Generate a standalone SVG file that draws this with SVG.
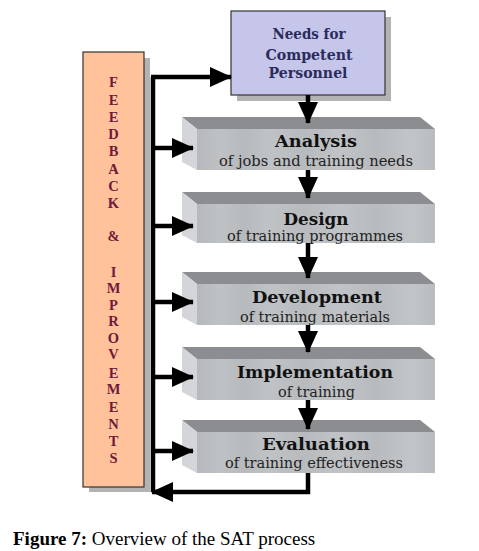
<svg xmlns="http://www.w3.org/2000/svg" width="479" height="551" viewBox="0 0 479 551">
<style>
.fb{font-family:"Liberation Serif","Times New Roman",serif;font-weight:bold;font-size:14.5px;fill:#6e1a3c;text-anchor:middle}
.nd{font-family:"DejaVu Serif","Liberation Serif",serif;font-weight:bold;font-size:14px;fill:#2b2b5c;text-anchor:middle}
.tt{font-family:"DejaVu Serif","Liberation Serif",serif;font-weight:bold;font-size:17px;fill:#111;text-anchor:middle}
.st{font-family:"DejaVu Serif","Liberation Serif",serif;font-size:14px;fill:#222;text-anchor:middle}
.topf{fill:#8b8d91}
.side{fill:#d3d5d8}
.front{fill:url(#fg)}
.shadow{fill:#b3b3b3}
.conn{stroke:#000;stroke-width:4.5;fill:none}
.cap{font-family:"Liberation Serif","Times New Roman",serif;font-size:19px;fill:#000}
</style>
<defs>
<linearGradient id="fg" x1="0" y1="0" x2="1" y2="0">
<stop offset="0" stop-color="#b6b9bc"/>
<stop offset="0.1" stop-color="#bfc2c5"/>
<stop offset="0.2" stop-color="#b7babd"/>
<stop offset="0.3" stop-color="#c0c3c6"/>
<stop offset="0.45" stop-color="#b8bbbe"/>
<stop offset="0.6" stop-color="#c1c4c7"/>
<stop offset="0.75" stop-color="#b8bbbe"/>
<stop offset="0.9" stop-color="#c2c5c8"/>
<stop offset="1" stop-color="#b9bcbf"/>
</linearGradient>
<marker id="ah" markerUnits="userSpaceOnUse" markerWidth="22" markerHeight="20" viewBox="0 0 22 20" refX="21" refY="10" orient="auto">
<path d="M0,0 L22,10 L0,20 z" fill="#000"/>
</marker>
</defs>
<rect width="479" height="551" fill="#fff"/>

<g id="feedback">
<rect class="shadow" x="144" y="58" width="6" height="434"/>
<rect class="shadow" x="89" y="487" width="61" height="5"/>
<rect x="83" y="52" width="61" height="435" fill="#ffc29b" stroke="#333" stroke-width="1.2"/>
<text class="fb" x="113.5" y="87">F</text>
<text class="fb" x="113.5" y="105">E</text>
<text class="fb" x="113.5" y="122">E</text>
<text class="fb" x="113.5" y="139">D</text>
<text class="fb" x="113.5" y="156">B</text>
<text class="fb" x="113.5" y="174">A</text>
<text class="fb" x="113.5" y="191">C</text>
<text class="fb" x="113.5" y="208">K</text>
<text class="fb" x="113.5" y="241">&amp;</text>
<text class="fb" x="113.5" y="277">I</text>
<text class="fb" x="113.5" y="293">M</text>
<text class="fb" x="113.5" y="310">P</text>
<text class="fb" x="113.5" y="326">R</text>
<text class="fb" x="113.5" y="343">O</text>
<text class="fb" x="113.5" y="359">V</text>
<text class="fb" x="113.5" y="378">E</text>
<text class="fb" x="113.5" y="394">M</text>
<text class="fb" x="113.5" y="412">E</text>
<text class="fb" x="113.5" y="429">N</text>
<text class="fb" x="113.5" y="446">T</text>
<text class="fb" x="113.5" y="463">S</text>
</g>

<g id="needs">
<rect class="shadow" x="237" y="17" width="154" height="84"/>
<rect x="231" y="11" width="154" height="84" fill="#c6c6ea" stroke="#333" stroke-width="1.2"/>
<text class="nd" x="309" y="39" textLength="73" lengthAdjust="spacingAndGlyphs">Needs for</text>
<text class="nd" x="309" y="60" textLength="87" lengthAdjust="spacingAndGlyphs">Competent</text>
<text class="nd" x="308" y="78" textLength="79" lengthAdjust="spacingAndGlyphs">Personnel</text>
</g>

<g id="analysis">
<polygon class="topf" points="182,117 420,117 435,129 197,129"/>
<polygon class="side" points="182,117 197,129 197,170 182,162"/>
<rect class="front" x="197" y="129" width="238" height="41"/>
<text class="tt" x="316" y="147" textLength="82" lengthAdjust="spacingAndGlyphs">Analysis</text>
<text class="st" x="316" y="166" textLength="194" lengthAdjust="spacingAndGlyphs">of jobs and training needs</text>
</g>

<g id="design">
<polygon class="topf" points="182,192 420,192 435,204 197,204"/>
<polygon class="side" points="182,192 197,204 197,243 182,235"/>
<rect class="front" x="197" y="204" width="238" height="39"/>
<text class="tt" x="316" y="225" textLength="65" lengthAdjust="spacingAndGlyphs">Design</text>
<text class="st" x="315" y="241" textLength="176" lengthAdjust="spacingAndGlyphs">of training programmes</text>
</g>

<g id="development">
<polygon class="topf" points="182,272 420,272 435,284 197,284"/>
<polygon class="side" points="182,272 197,284 197,325 182,317"/>
<rect class="front" x="197" y="284" width="238" height="41"/>
<text class="tt" x="317" y="303" textLength="130" lengthAdjust="spacingAndGlyphs">Development</text>
<text class="st" x="315" y="322" textLength="150" lengthAdjust="spacingAndGlyphs">of training materials</text>
</g>

<g id="implementation">
<polygon class="topf" points="182,347 420,347 435,359 197,359"/>
<polygon class="side" points="182,347 197,359 197,400 182,392"/>
<rect class="front" x="197" y="359" width="238" height="41"/>
<text class="tt" x="315" y="378" textLength="156" lengthAdjust="spacingAndGlyphs">Implementation</text>
<text class="st" x="316.5" y="397" textLength="77" lengthAdjust="spacingAndGlyphs">of training</text>
</g>

<g id="evaluation">
<polygon class="topf" points="182,420 420,420 435,432 197,432"/>
<polygon class="side" points="182,420 197,432 197,473 182,465"/>
<rect class="front" x="197" y="432" width="238" height="41"/>
<text class="tt" x="316" y="450" textLength="108" lengthAdjust="spacingAndGlyphs">Evaluation</text>
<text class="st" x="314" y="468" textLength="178" lengthAdjust="spacingAndGlyphs">of training effectiveness</text>
</g>

<g id="connectors">
<path class="conn" d="M153,77 V492"/>
<path class="conn" d="M151,77 H231" marker-end="url(#ah)"/>
<path class="conn" d="M153,148 H193" marker-end="url(#ah)"/>
<path class="conn" d="M153,226 H193" marker-end="url(#ah)"/>
<path class="conn" d="M153,302 H193" marker-end="url(#ah)"/>
<path class="conn" d="M153,377 H193" marker-end="url(#ah)"/>
<path class="conn" d="M153,451 H193" marker-end="url(#ah)"/>
<path class="conn" d="M308,95 V123" marker-end="url(#ah)"/>
<path class="conn" d="M308,170 V198" marker-end="url(#ah)"/>
<path class="conn" d="M308,243 V278" marker-end="url(#ah)"/>
<path class="conn" d="M308,325 V352" marker-end="url(#ah)"/>
<path class="conn" d="M308,400 V429" marker-end="url(#ah)"/>
<path class="conn" d="M308,473 V492 H152" marker-end="url(#ah)"/>
</g>

<text class="cap" x="13" y="545"><tspan font-weight="bold">Figure 7:</tspan> Overview of the SAT process</text>
</svg>
